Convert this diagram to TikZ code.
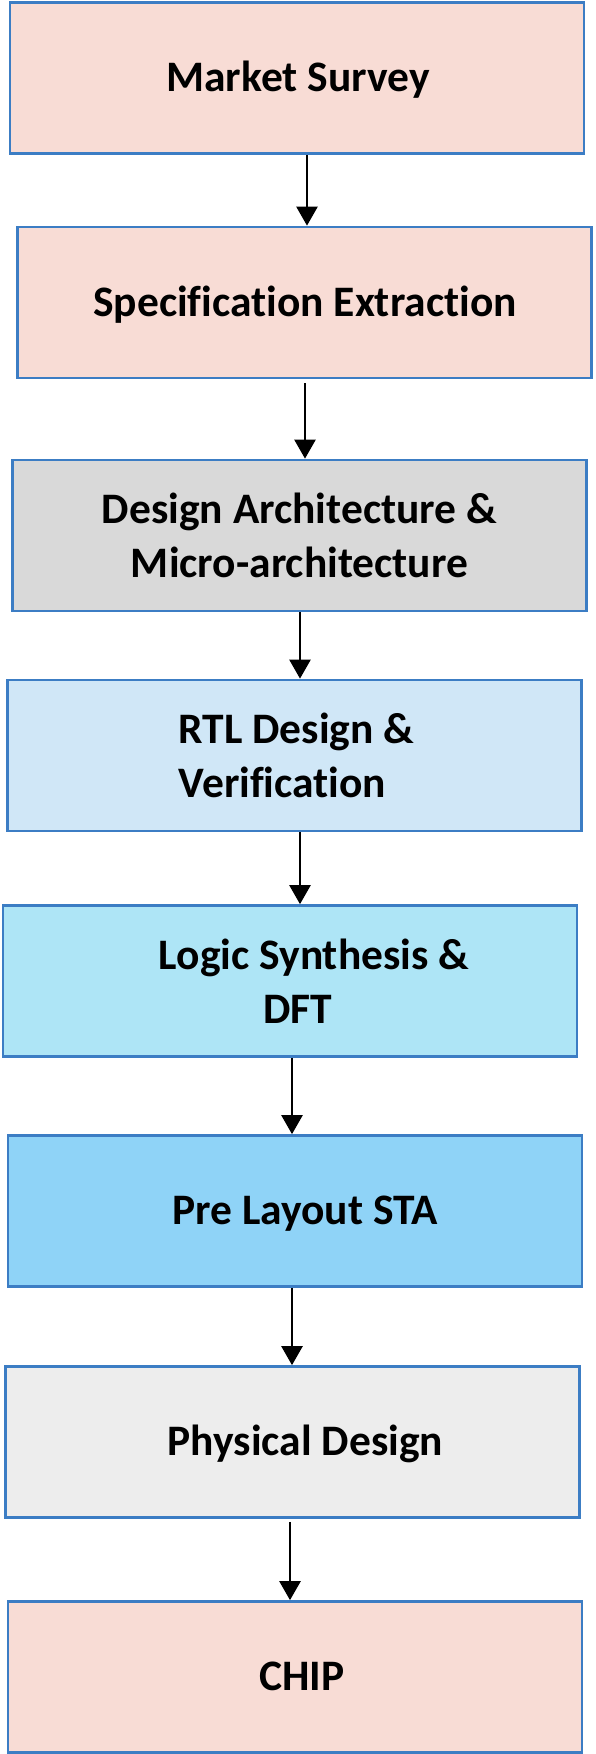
\documentclass[tikz,border=0pt]{standalone}
\usepackage{fontspec}
\setmainfont[Ligatures=NoCommon]{Carlito}
\usetikzlibrary{positioning, arrows.meta, calc}
\definecolor{borderblue}{HTML}{3C7DC4}
\definecolor{surveypink}{HTML}{F8DCD5}
\definecolor{archgray}{HTML}{D9D9D9}
\definecolor{rtlblue}{HTML}{D0E7F7}
\definecolor{synthcyan}{HTML}{AEE5F6}
\definecolor{stablue}{HTML}{8FD3F7}
\definecolor{pdgray}{HTML}{EDEDED}

\begin{document}
\begin{tikzpicture}[
    x=1pt, y=1pt,
    >={Triangle[width=21pt, length=19pt]},
    font=\fontsize{43.5}{54}\selectfont\bfseries,
    stagebox/.style={
        draw=borderblue, line width=2.7pt,
        minimum width=574pt, minimum height=151pt, inner sep=0pt,
    },
    title/.style={
        inner sep=0pt, align=center,
    },
    oneline/.style={
        title, text height=27.5pt, text depth=0pt,
    },
    flow/.style={
        ->, color=black, line width=2.5pt,
    },
]
\useasboundingbox (0,0) rectangle (596,-1754);

% Stage boxes, top to bottom
\node[stagebox, fill=surveypink] (ms)   at (297,-78)     {};
\node[stagebox, fill=surveypink] (se)   at (304.5,-302.5) {};
\node[stagebox, fill=archgray]   (da)   at (299.5,-535.5) {};
\node[stagebox, fill=rtlblue]    (rtl)  at (294.5,-755.5) {};
\node[stagebox, fill=synthcyan]  (ls)   at (290,-981)    {};
\node[stagebox, fill=stablue]    (sta)  at (295,-1211)   {};
\node[stagebox, fill=pdgray]     (pd)   at (292.5,-1442) {};
\node[stagebox, fill=surveypink] (chip) at (295,-1677)   {};

% Stage titles
\node[oneline] (mstext) at ($(ms.center) + (1,0)$) {Market Survey};
\node[oneline] (setext) at ($(se.center) + (0.5,0)$) {Specification Extraction};
\node[title] (datext) at (da.center) {Design Architecture \&\\Micro-architecture};
\node[title, align=left] (rtltext) at ($(rtl.center) + (2,0)$) {RTL Design \&\\Verification};
\node[title] (lstext) at ($(ls.center) + (8,0)$) {\hspace*{32pt}Logic Synthesis \&\\DFT};
\node[oneline] (statext) at ($(sta.center) + (10,0)$) {Pre Layout STA};
\node[oneline] (pdtext) at ($(pd.center) + (13,0)$) {Physical Design};
\node[oneline] (chiptext) at ($(chip.center) + (7,0)$) {CHIP};

% Flow arrows
\draw[flow] ($(ms.south) + (10,0)$) -- ($(se.north) + (2.5,0)$);
\draw[flow] ($(se.south) + (0.5,-4)$) -- ($(da.north) + (5.5,0)$);
\draw[flow] ($(da.south) + (0.5,0)$) -- ($(rtl.north) + (5.5,0)$);
\draw[flow] ($(rtl.south) + (5.5,0)$) -- ($(ls.north) + (10,0)$);
\draw[flow] ($(ls.south) + (2,0)$) -- ($(sta.north) + (-3,0)$);
\draw[flow] ($(sta.south) + (-3,0)$) -- ($(pd.north) + (-0.5,0)$);
\draw[flow] ($(pd.south) + (-2.5,-3)$) -- ($(chip.north) + (-5,0)$);

\end{tikzpicture}
\end{document}
